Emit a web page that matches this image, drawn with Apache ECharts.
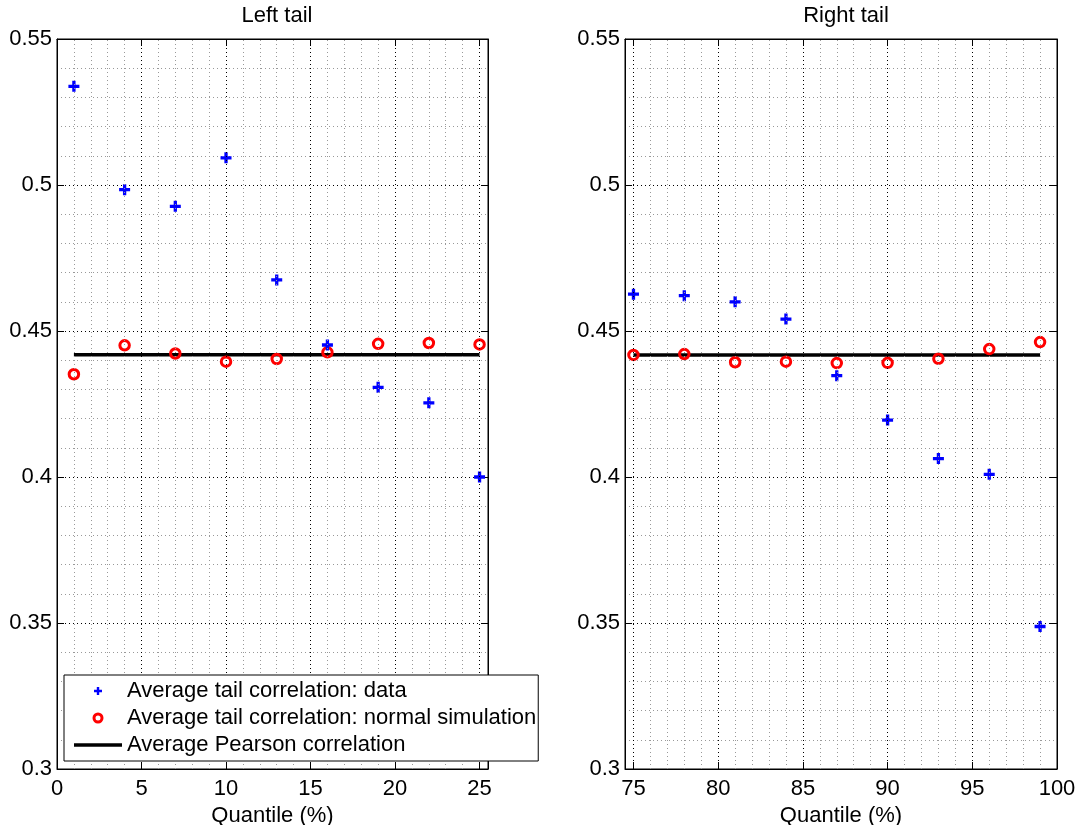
<!DOCTYPE html>
<html>
<head>
<meta charset="utf-8">
<script src="https://cdn.jsdelivr.net/npm/echarts@6/dist/echarts.min.js"></script>
<style>html,body{margin:0;padding:0;background:#fff;}#chart{width:1081px;height:825px;}</style>
</head>
<body>
<div id="chart"></div>
<script>
// ---- data ----
var leftQuantiles = [1, 4, 7, 10, 13, 16, 19, 22, 25];
var leftData = [0.5338, 0.4984, 0.4927, 0.5093, 0.4675, 0.4452, 0.4307, 0.4254, 0.4000];
var leftNormal = [0.4352, 0.4451, 0.4423, 0.4395, 0.4404, 0.4427, 0.4456, 0.4459, 0.4454];
var leftPearson = 0.4419;

var rightQuantiles = [75, 78, 81, 84, 87, 90, 93, 96, 99];
var rightData = [0.4626, 0.4621, 0.4600, 0.4541, 0.4347, 0.4195, 0.4063, 0.4009, 0.3488];
var rightNormal = [0.4418, 0.4421, 0.4393, 0.4395, 0.4390, 0.4391, 0.4405, 0.4438, 0.4462];
var rightPearson = 0.4418;

var leftXTicks = [0, 5, 10, 15, 20, 25];
var rightXTicks = [75, 80, 85, 90, 95, 100];
var leftXMinor = [1, 2, 3, 4, 6, 7, 8, 9, 11, 12, 13, 14, 16, 17, 18, 19, 21, 22, 23, 24];
var rightXMinor = [76, 77, 78, 79, 81, 82, 83, 84, 86, 87, 88, 89, 91, 92, 93, 94, 96, 97, 98, 99];

var titles = ['Left tail', 'Right tail'];
var xName = 'Quantile (%)';
var nameData = 'Average tail correlation: data';
var nameNormal = 'Average tail correlation: normal simulation';
var namePearson = 'Average Pearson correlation';

// ---- helpers ----
var FONT = 'Liberation Sans, Arial, Helvetica, sans-serif';
var plusPath = 'path://M3.5,0H6.5V3.5H10V6.5H6.5V10H3.5V6.5H0V3.5H3.5Z';
var linePath = 'path://M0,0H48V3.5H0Z';
function zip(xs, ys) { return xs.map(function (x, i) { return [x, ys[i]]; }); }

var grids = [
  { left: 57, width: 431, top: 39, height: 730 },
  { left: 625, width: 432, top: 39, height: 730 }
];
var xRanges = [[0, 25.5], [74.5, 100]];
var xTicks = [leftXTicks, rightXTicks];
var xMinor = [leftXMinor, rightXMinor];

var xAxes = [], yAxes = [];
[0, 1].forEach(function (g) {
  xAxes.push({
    type: 'value', gridIndex: g, min: xRanges[g][0], max: xRanges[g][1], position: 'bottom',
    name: xName, nameLocation: 'middle', nameGap: 28,
    nameTextStyle: { fontSize: 22, color: '#000', fontFamily: FONT },
    axisLine: { show: true, onZero: false, lineStyle: { color: '#000', width: 1 } },
    axisTick: { show: true, inside: true, length: 7, customValues: xTicks[g], lineStyle: { color: '#000' } },
    axisLabel: { show: true, customValues: xTicks[g], fontSize: 22, color: '#000', fontFamily: FONT, margin: 9 },
    splitLine: { show: false }
  });
  xAxes.push({
    type: 'value', gridIndex: g, min: xRanges[g][0], max: xRanges[g][1], position: 'top',
    axisLine: { show: true, onZero: false, lineStyle: { color: '#000', width: 1 } },
    axisTick: { show: true, inside: true, length: 7, customValues: xTicks[g], lineStyle: { color: '#000' } },
    axisLabel: { show: false },
    splitLine: { show: false }
  });
  yAxes.push({
    type: 'value', gridIndex: g, min: 0.3, max: 0.55, interval: 0.05, position: 'left',
    axisLine: { show: true, onZero: false, lineStyle: { color: '#000', width: 1 } },
    axisTick: { show: true, inside: true, length: 7, lineStyle: { color: '#000' } },
    axisLabel: { show: true, fontSize: 22, color: '#000', fontFamily: FONT, margin: 5 },
    splitLine: { show: true, lineStyle: { color: '#000', width: 1, type: [1, 3] } },
    minorTick: { show: false, splitNumber: 5 },
    minorSplitLine: { show: true, lineStyle: { color: '#999', width: 1, type: [1, 3] } }
  });
  yAxes.push({
    type: 'value', gridIndex: g, min: 0.3, max: 0.55, interval: 0.05, position: 'right',
    axisLine: { show: true, onZero: false, lineStyle: { color: '#000', width: 1 } },
    axisTick: { show: true, inside: true, length: 7, lineStyle: { color: '#000' } },
    axisLabel: { show: false },
    splitLine: { show: false }
  });
});

var quants = [leftQuantiles, rightQuantiles];
var dataVals = [leftData, rightData];
var normVals = [leftNormal, rightNormal];
var pearsonVals = [leftPearson, rightPearson];

var series = [];
[0, 1].forEach(function (g) {
  var xi = g * 2, yi = g * 2;
  var ml = [];
  xTicks[g].forEach(function (v) {
    if (v > xRanges[g][0] && v < xRanges[g][1]) ml.push({ xAxis: v, lineStyle: { color: '#000', width: 1, type: [1, 3] } });
  });
  xMinor[g].forEach(function (v) {
    ml.push({ xAxis: v, lineStyle: { color: '#999', width: 1, type: [1, 3] } });
  });
  series.push({
    type: 'line', xAxisIndex: xi, yAxisIndex: yi, data: [], silent: true, z: 1,
    markLine: { silent: true, symbol: ['none', 'none'], label: { show: false }, animation: false, data: ml }
  });
  var q = quants[g];
  series.push({
    name: namePearson, type: 'line', xAxisIndex: xi, yAxisIndex: yi, z: 2,
    symbol: 'none', showSymbol: false,
    data: [[q[0], pearsonVals[g]], [q[q.length - 1], pearsonVals[g]]],
    lineStyle: { color: '#000', width: 3.5 }, itemStyle: { color: '#000' }
  });
  series.push({
    name: nameNormal, type: 'scatter', xAxisIndex: xi, yAxisIndex: yi, z: 3,
    symbol: 'circle', symbolSize: 9.5,
    data: zip(q, normVals[g]),
    itemStyle: { color: 'rgba(255,255,255,0)', borderColor: '#ff0000', borderWidth: 3, opacity: 1 }
  });
  series.push({
    name: nameData, type: 'scatter', xAxisIndex: xi, yAxisIndex: yi, z: 4,
    symbol: plusPath, symbolSize: 11,
    data: zip(q, dataVals[g]),
    itemStyle: { color: '#0000ff', opacity: 1 }
  });
});

var option = {
  animation: false,
  backgroundColor: '#fff',
  textStyle: { fontFamily: FONT },
  title: [
    { text: titles[0], left: 272, top: 0, textAlign: 'center', textStyle: { fontSize: 22, fontWeight: 'normal', color: '#000', fontFamily: FONT } },
    { text: titles[1], left: 841, top: 0, textAlign: 'center', textStyle: { fontSize: 22, fontWeight: 'normal', color: '#000', fontFamily: FONT } }
  ],
  grid: grids.map(function (g) { return Object.assign({ show: true, borderColor: '#000', borderWidth: 1, backgroundColor: '#fff', containLabel: false, outerBoundsMode: 'none' }, g); }),
  xAxis: xAxes,
  yAxis: yAxes,
  legend: {
    show: true, orient: 'vertical', left: 64, top: 675, z: 10,
    backgroundColor: '#fff', borderColor: '#000', borderWidth: 1,
    padding: [5, 2, 5, 10], itemGap: 5, itemWidth: 48, itemHeight: 8,
    selectedMode: false,
    textStyle: { fontSize: 22, lineHeight: 22, color: '#000', fontFamily: FONT },
    data: [
      { name: nameData, icon: plusPath, itemStyle: { color: '#0000ff' } },
      { name: nameNormal, icon: 'circle', itemStyle: { color: 'rgba(255,255,255,0)', borderColor: '#ff0000', borderWidth: 3 } },
      { name: namePearson, icon: linePath, itemStyle: { color: '#000', borderWidth: 0 } }
    ]
  },
  series: series
};

var chart = echarts.init(document.getElementById('chart'), null, { renderer: 'canvas' });
chart.setOption(option);
</script>
</body>
</html>
